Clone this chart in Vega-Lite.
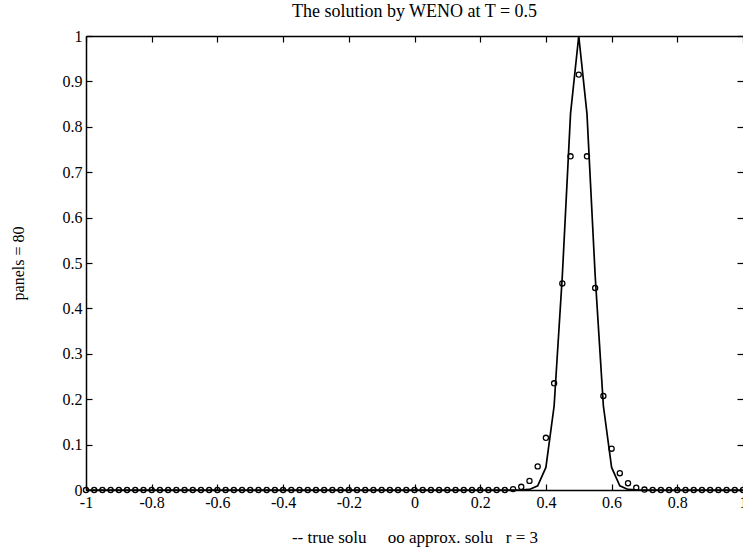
{
  "$schema": "https://vega.github.io/schema/vega-lite/v6.json",
  "width": 657,
  "height": 454,
  "autosize": {"type": "none"},
  "padding": {"left": 86, "top": 36, "right": 0, "bottom": 67},
  "background": "white",
  "config": {"view": {"stroke": null}, "font": "Liberation Serif"},
  "title": {"text": "The solution by WENO at T = 0.5", "font": "Liberation Serif", "fontSize": 18, "fontWeight": "normal", "color": "black", "offset": 7},
  "data": {"values": [
    {"x": -1, "true": 0, "approx": 0}, {"x": -0.975, "true": 0, "approx": 0}, {"x": -0.95, "true": 0, "approx": 0}, {"x": -0.925, "true": 0, "approx": 0},
    {"x": -0.9, "true": 0, "approx": 0}, {"x": -0.875, "true": 0, "approx": 0}, {"x": -0.85, "true": 0, "approx": 0}, {"x": -0.825, "true": 0, "approx": 0},
    {"x": -0.8, "true": 0, "approx": 0}, {"x": -0.775, "true": 0, "approx": 0}, {"x": -0.75, "true": 0, "approx": 0}, {"x": -0.725, "true": 0, "approx": 0},
    {"x": -0.7, "true": 0, "approx": 0}, {"x": -0.675, "true": 0, "approx": 0}, {"x": -0.65, "true": 0, "approx": 0}, {"x": -0.625, "true": 0, "approx": 0},
    {"x": -0.6, "true": 0, "approx": 0}, {"x": -0.575, "true": 0, "approx": 0}, {"x": -0.55, "true": 0, "approx": 0}, {"x": -0.525, "true": 0, "approx": 0},
    {"x": -0.5, "true": 0, "approx": 0}, {"x": -0.475, "true": 0, "approx": 0}, {"x": -0.45, "true": 0, "approx": 0}, {"x": -0.425, "true": 0, "approx": 0},
    {"x": -0.4, "true": 0, "approx": 0}, {"x": -0.375, "true": 0, "approx": 0}, {"x": -0.35, "true": 0, "approx": 0}, {"x": -0.325, "true": 0, "approx": 0},
    {"x": -0.3, "true": 0, "approx": 0}, {"x": -0.275, "true": 0, "approx": 0}, {"x": -0.25, "true": 0, "approx": 0}, {"x": -0.225, "true": 0, "approx": 0},
    {"x": -0.2, "true": 0, "approx": 0}, {"x": -0.175, "true": 0, "approx": 0}, {"x": -0.15, "true": 0, "approx": 0}, {"x": -0.125, "true": 0, "approx": 0},
    {"x": -0.1, "true": 0, "approx": 0}, {"x": -0.075, "true": 0, "approx": 0}, {"x": -0.05, "true": 0, "approx": 0}, {"x": -0.025, "true": 0, "approx": 0},
    {"x": 0, "true": 0, "approx": 0}, {"x": 0.025, "true": 0, "approx": 0}, {"x": 0.05, "true": 0, "approx": 0}, {"x": 0.075, "true": 0, "approx": 0},
    {"x": 0.1, "true": 0, "approx": 0}, {"x": 0.125, "true": 0, "approx": 0}, {"x": 0.15, "true": 0, "approx": 0}, {"x": 0.175, "true": 0, "approx": 0},
    {"x": 0.2, "true": 0, "approx": 0}, {"x": 0.225, "true": 0, "approx": 0}, {"x": 0.25, "true": 0, "approx": 0}, {"x": 0.275, "true": 0, "approx": 0},
    {"x": 0.3, "true": 0, "approx": 0.002}, {"x": 0.325, "true": 0.0001, "approx": 0.007}, {"x": 0.35, "true": 0.0012, "approx": 0.02}, {"x": 0.375, "true": 0.0092, "approx": 0.052},
    {"x": 0.4, "true": 0.0498, "approx": 0.115}, {"x": 0.425, "true": 0.185, "approx": 0.235}, {"x": 0.45, "true": 0.472, "approx": 0.455}, {"x": 0.475, "true": 0.829, "approx": 0.735},
    {"x": 0.5, "true": 1, "approx": 0.915}, {"x": 0.525, "true": 0.829, "approx": 0.735}, {"x": 0.55, "true": 0.472, "approx": 0.445}, {"x": 0.575, "true": 0.185, "approx": 0.207},
    {"x": 0.6, "true": 0.0498, "approx": 0.091}, {"x": 0.625, "true": 0.0092, "approx": 0.037}, {"x": 0.65, "true": 0.0012, "approx": 0.015}, {"x": 0.675, "true": 0.0001, "approx": 0.005},
    {"x": 0.7, "true": 0, "approx": 0.001}, {"x": 0.725, "true": 0, "approx": 0}, {"x": 0.75, "true": 0, "approx": 0}, {"x": 0.775, "true": 0, "approx": 0},
    {"x": 0.8, "true": 0, "approx": 0}, {"x": 0.825, "true": 0, "approx": 0}, {"x": 0.85, "true": 0, "approx": 0}, {"x": 0.875, "true": 0, "approx": 0},
    {"x": 0.9, "true": 0, "approx": 0}, {"x": 0.925, "true": 0, "approx": 0}, {"x": 0.95, "true": 0, "approx": 0}, {"x": 0.975, "true": 0, "approx": 0},
    {"x": 1, "true": 0, "approx": 0}
  ]},
  "layer": [
    {
      "mark": {"type": "line", "color": "black", "strokeWidth": 1.7},
      "encoding": {
        "x": {"field": "x", "type": "quantitative", "scale": {"domain": [-1, 1], "nice": false, "zero": false},
          "axis": {"orient": "bottom", "values": [-1, -0.8, -0.6, -0.4, -0.2, 0, 0.2, 0.4, 0.6, 0.8, 1],
            "labelExpr": "'' + datum.value", "tickSize": -6, "labelPadding": 10, "tickColor": "black", "tickWidth": 1.2,
            "domainColor": "black", "domainWidth": 1.5, "grid": false, "labelFont": "Liberation Serif", "labelFontSize": 16,
            "labelColor": "black", "labelFlush": false, "labelOverlap": false,
            "title": "-- true solu\u00a0\u00a0\u00a0\u00a0\u00a0oo approx. solu\u00a0\u00a0\u00a0r = 3",
            "titleFont": "Liberation Serif", "titleFontSize": 17, "titleFontWeight": "normal", "titleColor": "black", "titlePadding": 19}},
        "y": {"field": "true", "type": "quantitative", "scale": {"domain": [0, 1], "nice": false, "zero": false},
          "axis": {"orient": "left", "values": [0, 0.1, 0.2, 0.3, 0.4, 0.5, 0.6, 0.7, 0.8, 0.9, 1],
            "labelExpr": "'' + datum.value", "tickSize": -6, "labelPadding": 10, "tickColor": "black", "tickWidth": 1.2,
            "domainColor": "black", "domainWidth": 1.5, "grid": false, "labelFont": "Liberation Serif", "labelFontSize": 16,
            "labelColor": "black", "labelFlush": false, "labelOverlap": false,
            "title": "panels = 80", "titleFont": "Liberation Serif", "titleFontSize": 16, "titleFontWeight": "normal", "titleColor": "black", "titlePadding": 36}}
      }
    },
    {
      "mark": {"type": "point", "shape": "circle", "filled": false, "color": "black", "size": 26, "strokeWidth": 1.3, "opacity": 1},
      "encoding": {
        "x": {"field": "x", "type": "quantitative",
          "axis": {"orient": "top", "values": [-1, -0.8, -0.6, -0.4, -0.2, 0, 0.2, 0.4, 0.6, 0.8, 1], "labels": false, "tickSize": -6,
            "tickColor": "black", "tickWidth": 1.2, "domainColor": "black", "domainWidth": 1.5, "grid": false, "title": null}},
        "y": {"field": "approx", "type": "quantitative",
          "axis": {"orient": "right", "values": [0, 0.1, 0.2, 0.3, 0.4, 0.5, 0.6, 0.7, 0.8, 0.9, 1], "labels": false, "tickSize": -6,
            "tickColor": "black", "tickWidth": 1.2, "domain": false, "grid": false, "title": null}}
      }
    }
  ],
  "resolve": {"axis": {"x": "independent", "y": "independent"}}
}
